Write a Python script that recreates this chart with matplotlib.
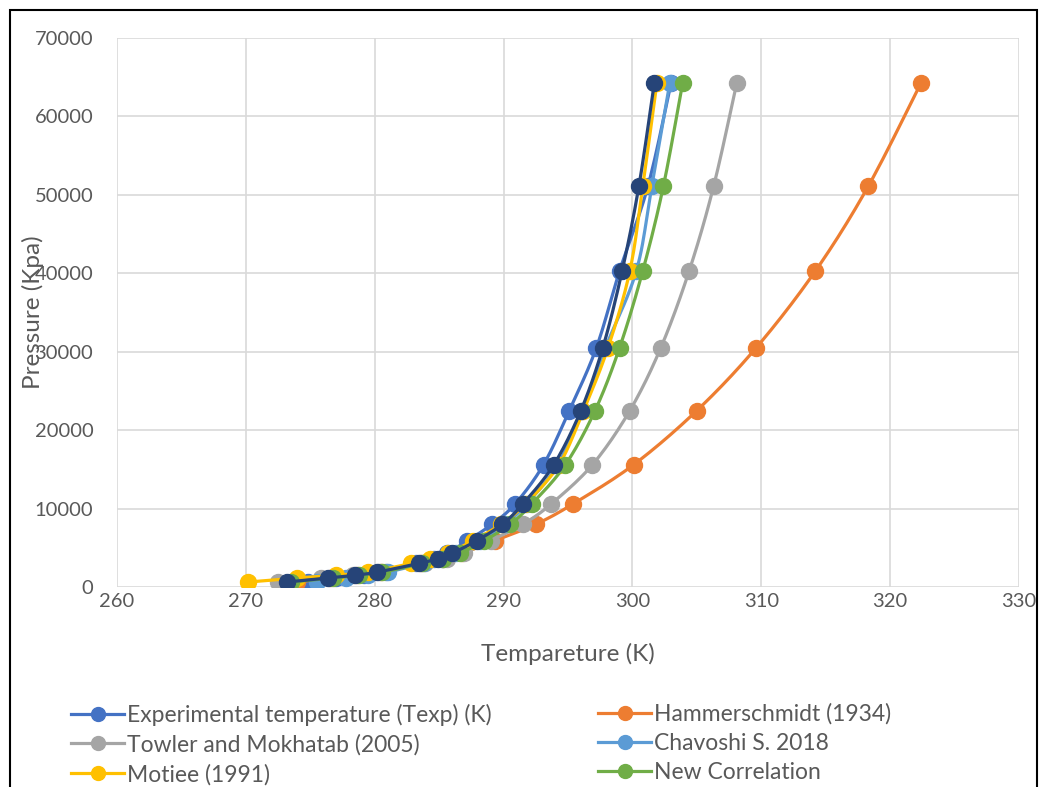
import numpy as np
import matplotlib.pyplot as plt
from matplotlib.lines import Line2D
from matplotlib.patches import Rectangle

# data (pressure in kPa, temperature in K)
pressure = [640, 1150, 1500, 1900, 3000, 3600, 4300, 5900, 8000, 10600,
            15600, 22500, 30500, 40300, 51100, 64300]

t_exp      = [274.8, 277.0, 279.2, 280.9, 283.2, 284.6, 285.6, 287.2, 289.1, 290.9,
              293.1, 295.1, 297.2, 299.0, 301.2, 303.0]
t_hammer   = [274.0, 276.5, 278.6, 280.5, 283.6, 285.3, 286.8, 289.3, 292.5, 295.4,
              300.1, 305.0, 309.6, 314.2, 318.3, 322.4]
t_towler   = [272.5, 275.8, 278.3, 280.3, 283.9, 285.6, 286.9, 289.0, 291.5, 293.7,
              296.9, 299.8, 302.2, 304.4, 306.3, 308.1]
t_chavoshi = [275.5, 277.8, 279.5, 281.0, 283.8, 285.2, 286.3, 288.2, 290.1, 291.8,
              294.2, 296.1, 297.9, 300.3, 301.5, 302.9]
t_motiee   = [270.2, 274.0, 277.0, 279.5, 282.8, 284.3, 285.7, 287.6, 289.8, 291.7,
              294.3, 296.2, 298.1, 299.8, 300.8, 301.9]
t_new      = [273.5, 276.8, 278.8, 280.6, 283.7, 285.3, 286.6, 288.5, 290.5, 292.2,
              294.8, 297.1, 299.0, 300.8, 302.4, 303.9]
# extra series drawn on top, no legend entry visible
t_extra    = [273.2, 276.4, 278.5, 280.2, 283.4, 284.9, 286.0, 287.9, 289.9, 291.5,
              293.9, 296.0, 297.7, 299.2, 300.5, 301.7]

labels = ['Experimental temperature (Texp) (K)', 'Hammerschmidt (1934)',
          'Towler and Mokhatab (2005)', 'Chavoshi S. 2018',
          'Motiee (1991)', 'New Correlation']
colors = ['#4472C4', '#ED7D31', '#A5A5A5', '#5B9BD5', '#FFC000', '#70AD47']


def smooth(x, y, n=12):
    # catmull-rom curve through the points, like excel's smoothed line
    x = np.asarray(x, float)
    y = np.asarray(y, float)
    # work in normalised units so both axes count equally
    sx, sy = 70.0, 70000.0
    p = np.column_stack([x / sx, y / sy])
    p = np.vstack([p[0], p, p[-1]])
    out = []
    for i in range(1, len(p) - 2):
        p0, p1, p2, p3 = p[i - 1], p[i], p[i + 1], p[i + 2]
        for t in np.linspace(0, 1, n, endpoint=False):
            t2, t3 = t * t, t * t * t
            pt = 0.5 * ((2 * p1) + (-p0 + p2) * t
                        + (2 * p0 - 5 * p1 + 4 * p2 - p3) * t2
                        + (-p0 + 3 * p1 - 3 * p2 + p3) * t3)
            out.append(pt)
    out.append(p[-2])
    out = np.array(out)
    return out[:, 0] * sx, out[:, 1] * sy


plt.rcParams['font.family'] = ['Lato', 'DejaVu Sans']

fig = plt.figure(figsize=(10.51, 7.87), dpi=100)
ax = fig.add_axes([0.1113, 0.2541, 0.8583, 0.6976])

LW, MS = 2.3, 11.5
handles = []
series = [t_exp, t_hammer, t_towler, t_chavoshi, t_motiee, t_new]
for temps, lab, col in zip(series, labels, colors):
    xs, ys = smooth(temps, pressure)
    ax.plot(xs, ys, color=col, lw=LW, solid_capstyle='round')
    ax.plot(temps, pressure, ls='none', marker='o', ms=MS, color=col)
    handles.append(Line2D([], [], color=col, lw=LW, marker='o', ms=10))
xs, ys = smooth(t_extra, pressure)
ax.plot(xs, ys, color='#264478', lw=LW)
ax.plot(t_extra, pressure, ls='none', marker='o', ms=MS, color='#264478')

ax.set_xlim(260, 330)
ax.set_ylim(0, 70000)
ax.set_xticks(range(260, 331, 10))
ax.set_yticks(range(0, 70001, 10000))
ax.grid(True, color='#D9D9D9', lw=1.2)
ax.set_axisbelow(True)
for s in ax.spines.values():
    s.set_visible(False)
ax.tick_params(length=0, labelsize=14.5, labelcolor='#595959')
ax.tick_params(axis='y', pad=17)
ax.tick_params(axis='x', pad=4)

ax.set_xlabel('Tempareture (K)', fontsize=17.5, color='#595959', labelpad=24)
fig.text(33 / 1051, 1 - 312 / 787, 'Pressure (Kpa)', rotation=90, fontsize=17.5,
         color='#595959', ha='center', va='center')

# legend: two columns, placed separately
kw = dict(frameon=False, fontsize=16.5, handlelength=2.3, handletextpad=0.12,
          labelspacing=0.36, borderpad=0, labelcolor='#595959', loc='upper left')
fig.legend([handles[0], handles[2], handles[4]],
           [labels[0], labels[2], labels[4]],
           bbox_to_anchor=(60 / 1051, 1 - 692 / 787), **kw)
fig.legend([handles[1], handles[3], handles[5]],
           [labels[1], labels[3], labels[5]],
           bbox_to_anchor=(587 / 1051, 1 - 692 / 787), **kw)

# outer border of the chart area
fig.patches.append(Rectangle((10 / 1051, -0.05), 1027 / 1051, 1.05 - 10 / 787,
                             transform=fig.transFigure, fill=False,
                             edgecolor='black', lw=1.5))

fig.savefig('out.png', dpi=100)
